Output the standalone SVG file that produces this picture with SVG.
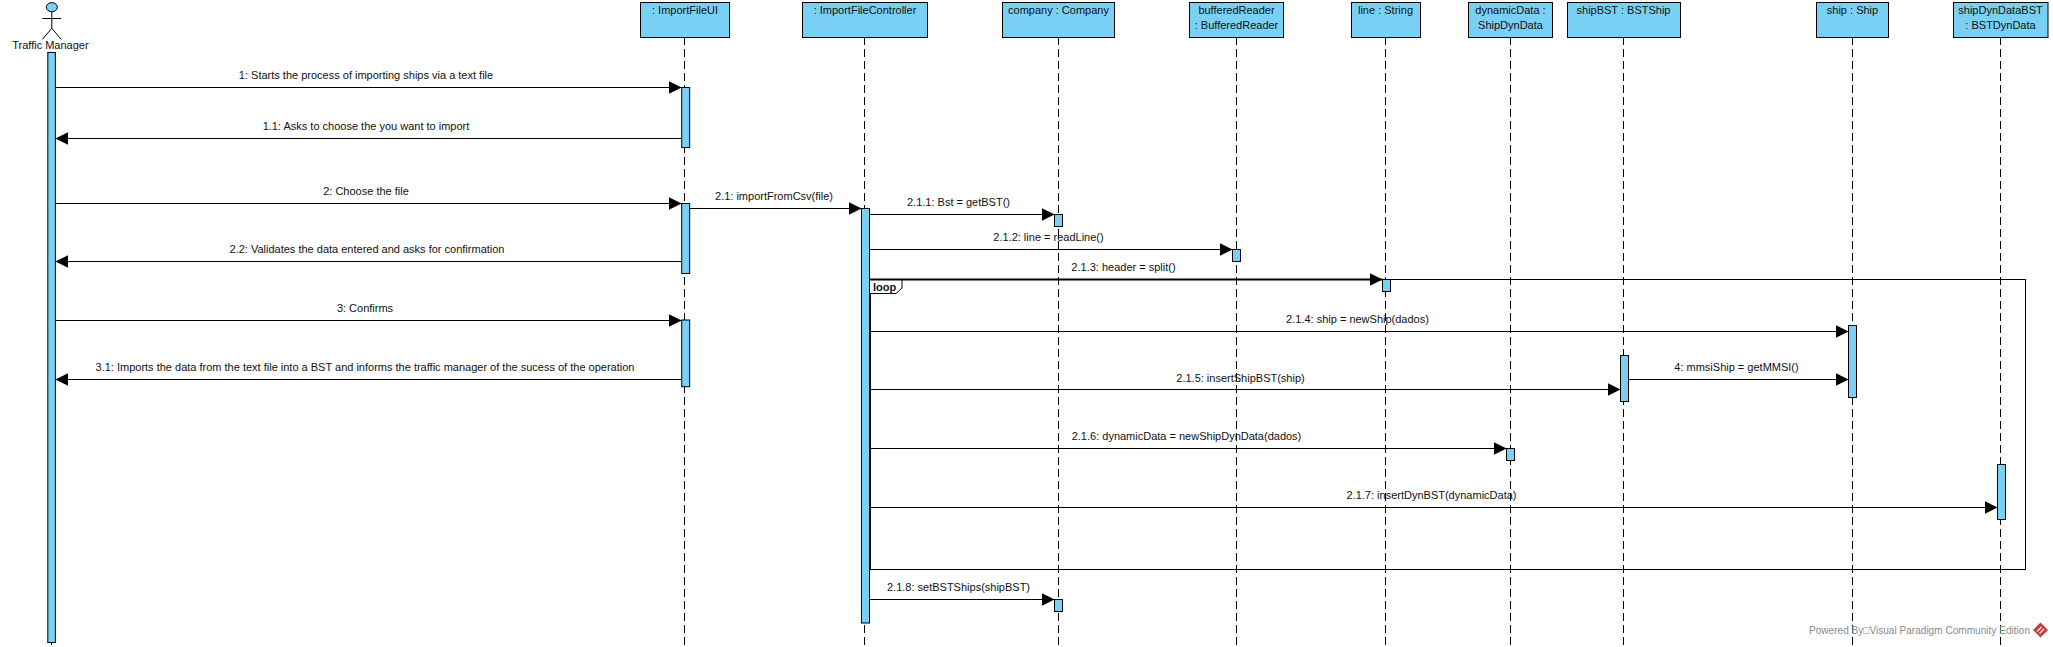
<svg xmlns="http://www.w3.org/2000/svg" width="2053" height="647" viewBox="0 0 2053 647">
<style>
text{font-family:"Liberation Sans",Arial,sans-serif;font-size:11px;fill:#111;text-anchor:middle}
.box,.act{fill:#7acff5;stroke:#000;stroke-width:1}
.life{stroke:#000;stroke-width:1;stroke-dasharray:8 4;fill:none}
.msg{stroke:#000;stroke-width:1;fill:none;marker-end:url(#arrow)}
.stk{stroke:#000;stroke-width:1;fill:none}
.frame{stroke:#000;stroke-width:1;fill:none}
.tag{stroke:#000;stroke-width:1;fill:#fff}
.loop{font-weight:bold;text-anchor:start}
.foot{fill:#8a8a8a;text-anchor:start;font-size:10.5px}
</style>
<defs>
<marker id="arrow" markerUnits="userSpaceOnUse" markerWidth="14" markerHeight="14" refX="13" refY="6.5" orient="auto"><polygon points="0,0 13,6.5 0,13" fill="#000"/></marker>
</defs>
<rect width="2053" height="647" fill="#fff"/>
<g id="frame-loop">
<rect class="frame" x="869.5" y="279.5" width="1156" height="290"/>
<path class="stk" style="stroke-width:2" d="M870 279V569"/>
<polygon class="tag" points="869.5,279.5 902,279.5 902,288 896,293.5 869.5,293.5"/>
<text class="loop" x="873" y="290.5">loop</text>
</g>
<g id="node-traffic-manager">
<ellipse class="box" cx="51.8" cy="7.2" rx="5.5" ry="4.6"/>
<path class="stk" d="M51.8 11.8V28.3M42.4 18.5H61.2M42.4 39.3L51.8 28.3L61.2 39.3"/>
<text x="50.4" y="49">Traffic Manager</text>
<path class="life" d="M51.5 52V645"/>
<rect class="act" x="47.8" y="52.5" width="7.6" height="590"/>
</g>
<g id="node-import-file-ui">
<path class="life" d="M684.5 37V645"/>
<rect class="box" x="640.5" y="2.5" width="89" height="35"/>
<text x="685" y="14">: ImportFileUI</text>
<rect class="act" x="681.7" y="87.5" width="8" height="60"/>
<rect class="act" x="681.7" y="203.5" width="8" height="70"/>
<rect class="act" x="681.7" y="320" width="8" height="66.7"/>
</g>
<g id="node-import-file-controller">
<path class="life" d="M864.5 37V645"/>
<rect class="box" x="802.5" y="2.5" width="125" height="35"/>
<text x="865" y="14">: ImportFileController</text>
<rect class="act" x="861.5" y="208.5" width="8" height="414.5"/>
</g>
<g id="node-company">
<path class="life" d="M1058.5 37V645"/>
<rect class="box" x="1002.5" y="2.5" width="112" height="35"/>
<text x="1058.5" y="14">company : Company</text>
<rect class="act" x="1054.5" y="214.5" width="8" height="12"/>
<rect class="act" x="1054.5" y="599.5" width="8" height="12"/>
</g>
<g id="node-buffered-reader">
<path class="life" d="M1236.5 37V645"/>
<rect class="box" x="1189.5" y="2.5" width="94" height="35"/>
<text x="1236.5" y="14">bufferedReader</text>
<text x="1236.5" y="29">: BufferedReader</text>
<rect class="act" x="1232.5" y="249.5" width="8" height="12"/>
</g>
<g id="node-line">
<path class="life" d="M1385.5 37V645"/>
<rect class="box" x="1351.5" y="2.5" width="69" height="35"/>
<text x="1385.5" y="14">line : String</text>
<rect class="act" x="1382.5" y="279.5" width="8" height="12"/>
</g>
<g id="node-dynamic-data">
<path class="life" d="M1510.5 37V645"/>
<rect class="box" x="1468.5" y="2.5" width="84" height="35"/>
<text x="1510.5" y="14">dynamicData :</text>
<text x="1510.5" y="29">ShipDynData</text>
<rect class="act" x="1506.5" y="448.5" width="8" height="12"/>
</g>
<g id="node-ship-bst">
<path class="life" d="M1623.5 37V645"/>
<rect class="box" x="1567.5" y="2.5" width="113" height="35"/>
<text x="1623.5" y="14">shipBST : BSTShip</text>
<rect class="act" x="1620.5" y="355.5" width="8" height="46"/>
</g>
<g id="node-ship">
<path class="life" d="M1852.5 37V645"/>
<rect class="box" x="1816.5" y="2.5" width="72" height="35"/>
<text x="1852.5" y="14">ship : Ship</text>
<rect class="act" x="1848.5" y="325.5" width="8" height="72"/>
</g>
<g id="node-ship-dyn-data-bst">
<path class="life" d="M2000.5 37V645"/>
<rect class="box" x="1953.5" y="2.5" width="94.5" height="35"/>
<text x="2000.5" y="14">shipDynDataBST</text>
<text x="2000.5" y="29">: BSTDynData</text>
<rect class="act" x="1997.5" y="464.5" width="8" height="55"/>
</g>
<g id="connectors">
<path class="msg" d="M55.4 87.5H681.7"/><text x="366" y="79">1: Starts the process of importing ships via a text file</text>
<path class="msg" d="M681.7 138.5H55.4"/><text x="366" y="130">1.1: Asks to choose the you want to import</text>
<path class="msg" d="M55.4 203.5H681.7"/><text x="366" y="195">2: Choose the file</text>
<path class="msg" d="M689.7 208.5H861.5"/><text x="774" y="200">2.1: importFromCsv(file)</text>
<path class="msg" d="M869.5 214.5H1054.5"/><text x="958.5" y="206">2.1.1: Bst = getBST()</text>
<path class="msg" d="M681.7 261.5H55.4"/><text x="367" y="253">2.2: Validates the data entered and asks for confirmation</text>
<path class="msg" d="M55.4 320.5H681.7"/><text x="365" y="312">3: Confirms</text>
<path class="msg" d="M681.7 379.5H55.4"/><text x="365" y="371">3.1: Imports the data from the text file into a BST and informs the traffic manager of the sucess of the operation</text>
<path class="msg" d="M869.5 249.5H1232.5"/><text x="1048.5" y="241">2.1.2: line = readLine()</text>
<path class="msg" d="M869.5 279.5H1382.5" style="stroke-width:2"/><text x="1123.5" y="271">2.1.3: header = split()</text>
<path class="msg" d="M869.5 331.5H1848.5"/><text x="1357.5" y="323">2.1.4: ship = newShip(dados)</text>
<path class="msg" d="M869.5 389.5H1620.5"/><text x="1240.5" y="382">2.1.5: insertShipBST(ship)</text>
<path class="msg" d="M1628.5 379.5H1848.5"/><text x="1736.5" y="371">4: mmsiShip = getMMSI()</text>
<path class="msg" d="M869.5 448.5H1506.5"/><text x="1186.5" y="440">2.1.6: dynamicData = newShipDynData(dados)</text>
<path class="msg" d="M869.5 507.5H1997.5"/><text x="1431.5" y="499">2.1.7: insertDynBST(dynamicData)</text>
<path class="msg" d="M869.5 599.5H1054.5"/><text x="958.5" y="591">2.1.8: setBSTShips(shipBST)</text>
</g>
<g id="watermark">
<text class="foot" x="1809" y="634" textLength="221" lengthAdjust="spacingAndGlyphs">Powered By□Visual Paradigm Community Edition</text>
<polygon points="2040.5,622.5 2048,630 2040.5,637.5 2033,630" fill="#c8393b"/>
<path d="M2037 631.5L2041.5 627M2039.5 633.5L2044 629" stroke="#fff" stroke-width="1.2" fill="none"/>
</g>
</svg>
